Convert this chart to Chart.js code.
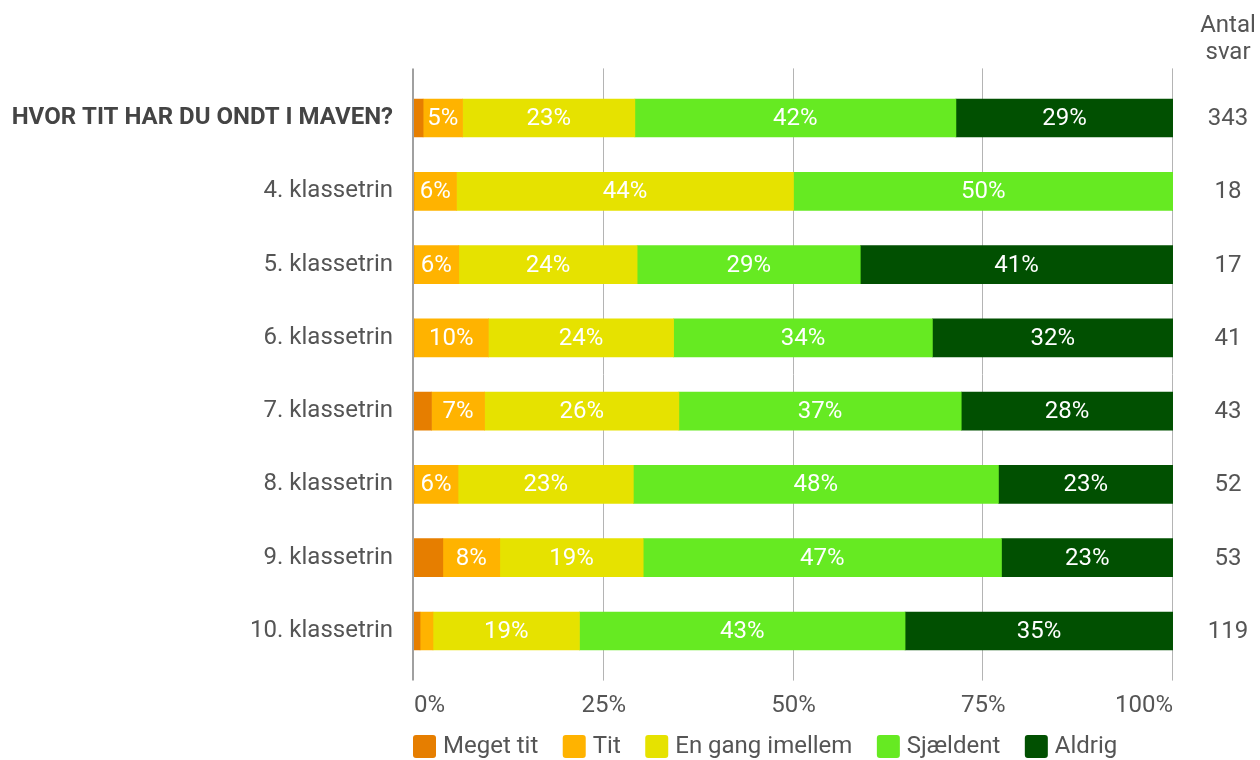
<!DOCTYPE html>
<html>
<head>
<meta charset="utf-8">
<script src="https://cdn.jsdelivr.net/npm/chart.js@4"></script>
<style>
  body { margin: 0; background: #fff; }
  canvas { display: block; }
</style>
</head>
<body>
<canvas id="myChart" width="1260" height="760"></canvas>
<script>
// rows
const categories = [
  'HVOR TIT HAR DU ONDT I MAVEN?',
  '4. klassetrin',
  '5. klassetrin',
  '6. klassetrin',
  '7. klassetrin',
  '8. klassetrin',
  '9. klassetrin',
  '10. klassetrin',
];
const counts = [343, 18, 17, 41, 43, 52, 53, 119];

// percentages per answer
const megetTit = [1.2, 0, 0, 0, 2.3, 0, 3.8, 0.8];
const tit = [5.2, 5.6, 5.9, 9.8, 7.0, 5.8, 7.5, 1.7];
const enGang = [22.7, 44.4, 23.5, 24.4, 25.6, 23.1, 18.9, 19.3];
const sjaeldent = [42.3, 50.0, 29.4, 34.1, 37.2, 48.1, 47.2, 42.9];
const aldrig = [28.6, 0, 41.2, 31.7, 27.9, 23.0, 22.6, 35.3];

const xTicks = [0, 25, 50, 75, 100];
const countHeader = ['Antal', 'svar'];

Chart.defaults.font.family = 'Roboto';
Chart.defaults.font.size = 24;
Chart.defaults.color = '#555';

// vertical grid lines, a bit taller than the bar area
const gridLines = {
  id: 'gridLines',
  beforeDatasetsDraw(chart) {
    const { ctx, chartArea, scales } = chart;
    ctx.save();
    xTicks.forEach((t) => {
      const x = scales.x.getPixelForValue(t);
      ctx.beginPath();
      if (t === 0) {
        ctx.strokeStyle = '#a0a0a0';
        ctx.lineWidth = 2;
      } else {
        ctx.strokeStyle = '#b4b4b4';
        ctx.lineWidth = 1;
      }
      const px = t === 0 ? x - 1 : Math.round(x) - 0.5;
      ctx.moveTo(px, chartArea.top - 13);
      ctx.lineTo(px, chartArea.bottom + 13);
      ctx.stroke();
    });
    ctx.restore();
  },
};

// percent labels inside the bars + count column + legend
const extras = {
  id: 'extras',
  afterDatasetsDraw(chart) {
    const { ctx, chartArea, scales } = chart;
    ctx.save();
    ctx.font = '24px Roboto';
    ctx.textAlign = 'center';
    ctx.textBaseline = 'middle';
    ctx.fillStyle = '#fff';
    chart.data.datasets.forEach((ds, di) => {
      const meta = chart.getDatasetMeta(di);
      meta.data.forEach((bar, i) => {
        const v = ds.data[i];
        if (v < 4) return;
        ctx.fillText(Math.round(v) + '%', (bar.x + bar.base) / 2, bar.y + 1);
      });
    });

    // Antal svar
    const cx = chartArea.right + 55;
    ctx.fillStyle = '#555';
    counts.forEach((c, i) => {
      ctx.fillText(String(c), cx, scales.y.getPixelForValue(i) + 1);
    });
    ctx.fillText(countHeader[0], cx, 26);
    ctx.fillText(countHeader[1], cx, 53);

    // legend
    let lx = chartArea.left - 1;
    const ly = 735;
    chart.data.datasets.forEach((ds) => {
      ctx.fillStyle = ds.backgroundColor;
      ctx.beginPath();
      ctx.roundRect(lx, ly, 23, 23, 3);
      ctx.fill();
      ctx.fillStyle = '#555';
      ctx.textAlign = 'left';
      ctx.fillText(ds.label, lx + 30, ly + 12);
      lx += 30 + ctx.measureText(ds.label).width + 24.5;
    });
    ctx.restore();
  },
};

const ctx = document.getElementById('myChart').getContext('2d');
const myChart = new Chart(ctx, {
  type: 'bar',
  data: {
    labels: categories,
    datasets: [
      { label: 'Meget tit', data: megetTit, backgroundColor: '#e67e00' },
      { label: 'Tit', data: tit, backgroundColor: '#ffb300' },
      { label: 'En gang imellem', data: enGang, backgroundColor: '#e6e200' },
      { label: 'Sjældent', data: sjaeldent, backgroundColor: '#66ea22' },
      { label: 'Aldrig', data: aldrig, backgroundColor: '#015001' },
    ],
  },
  options: {
    indexAxis: 'y',
    responsive: false,
    animation: false,
    layout: {
      padding: { top: 81.4, right: 87, bottom: 32.4, left: 0 },
    },
    datasets: {
      bar: { barThickness: 38, borderWidth: 0 },
    },
    plugins: {
      legend: { display: false },
      tooltip: { enabled: false },
    },
    scales: {
      x: {
        stacked: true,
        min: 0,
        max: 100,
        grid: { display: false, drawTicks: false },
        border: { display: false },
        afterBuildTicks: (scale) => {
          scale.ticks = xTicks.map((v) => ({ value: v }));
        },
        afterFit: (scale) => {
          scale.height = 60;
        },
        ticks: {
          align: 'inner',
          padding: 24,
          color: '#555',
          callback: (v) => v + '%',
        },
      },
      y: {
        stacked: true,
        grid: { display: false, drawTicks: false },
        border: { display: false },
        afterFit: (scale) => {
          scale.width = 414;
        },
        ticks: {
          padding: 21,
          color: (c) => (c.index === 0 ? '#444' : '#555'),
          font: (c) => (c.index === 0 ? { weight: 'bold' } : { weight: 'normal' }),
        },
      },
    },
  },
  plugins: [gridLines, extras],
});
</script>
</body>
</html>
